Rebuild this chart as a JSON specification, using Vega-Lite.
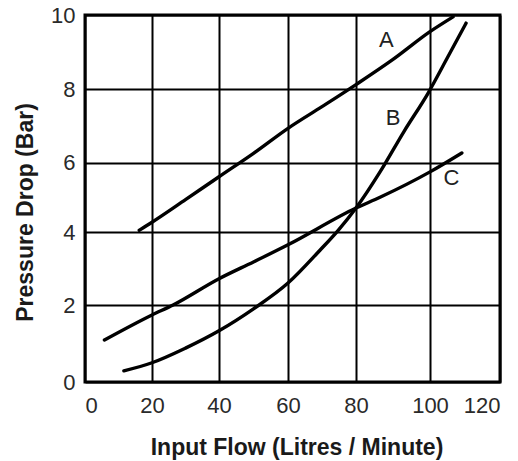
{
  "$schema": "https://vega.github.io/schema/vega-lite/v6.json",
  "width": 415,
  "height": 367,
  "autosize": {"type": "none"},
  "padding": {"left": 85, "top": 15, "right": 18, "bottom": 79},
  "background": "white",
  "config": {
    "font": "Liberation Sans",
    "view": {"stroke": "black", "strokeWidth": 3},
    "axis": {
      "grid": true,
      "gridColor": "black",
      "gridOpacity": 1,
      "gridWidth": 2,
      "domain": false,
      "ticks": false,
      "labelFont": "Liberation Sans",
      "labelFontSize": 22,
      "labelColor": "#2a2a2a",
      "titleFont": "Liberation Sans",
      "titleFontSize": 23,
      "titleFontWeight": "bold",
      "titleColor": "#1a1a1a"
    }
  },
  "datasets": {
    "curves": [
      {"curve": "A", "flow": 16.2, "pressure": 4.05},
      {"curve": "A", "flow": 20, "pressure": 4.28},
      {"curve": "A", "flow": 30, "pressure": 4.93},
      {"curve": "A", "flow": 40, "pressure": 5.59},
      {"curve": "A", "flow": 50, "pressure": 6.25},
      {"curve": "A", "flow": 60, "pressure": 6.93},
      {"curve": "A", "flow": 70, "pressure": 7.52},
      {"curve": "A", "flow": 80, "pressure": 8.12},
      {"curve": "A", "flow": 90, "pressure": 8.8},
      {"curve": "A", "flow": 100, "pressure": 9.55},
      {"curve": "A", "flow": 106.6, "pressure": 9.95},
      {"curve": "B", "flow": 11.6, "pressure": 0.29},
      {"curve": "B", "flow": 20, "pressure": 0.5},
      {"curve": "B", "flow": 30, "pressure": 0.88},
      {"curve": "B", "flow": 40, "pressure": 1.33},
      {"curve": "B", "flow": 50, "pressure": 1.9},
      {"curve": "B", "flow": 60, "pressure": 2.6},
      {"curve": "B", "flow": 69.4, "pressure": 3.5},
      {"curve": "B", "flow": 74.7, "pressure": 4.04},
      {"curve": "B", "flow": 80, "pressure": 4.69},
      {"curve": "B", "flow": 86.5, "pressure": 5.73},
      {"curve": "B", "flow": 93, "pressure": 6.85},
      {"curve": "B", "flow": 99.5, "pressure": 7.89},
      {"curve": "B", "flow": 105, "pressure": 8.85},
      {"curve": "B", "flow": 110.3, "pressure": 9.78},
      {"curve": "C", "flow": 5.8, "pressure": 1.09},
      {"curve": "C", "flow": 20, "pressure": 1.74},
      {"curve": "C", "flow": 26.3, "pressure": 2.0},
      {"curve": "C", "flow": 40, "pressure": 2.72},
      {"curve": "C", "flow": 50, "pressure": 3.18},
      {"curve": "C", "flow": 60, "pressure": 3.65},
      {"curve": "C", "flow": 80, "pressure": 4.69},
      {"curve": "C", "flow": 86.5, "pressure": 5.0},
      {"curve": "C", "flow": 100, "pressure": 5.73},
      {"curve": "C", "flow": 109.1, "pressure": 6.26}
    ],
    "labels": [
      {"name": "A", "flow": 88.2, "pressure": 9.32},
      {"name": "B", "flow": 90, "pressure": 7.21},
      {"name": "C", "flow": 106.1, "pressure": 5.54}
    ]
  },
  "layer": [
    {
      "data": {"name": "curves"},
      "mark": {"type": "line", "color": "black", "strokeWidth": 3.4, "interpolate": "monotone", "strokeCap": "round", "strokeJoin": "round"},
      "encoding": {
        "x": {"field": "flow", "type": "quantitative",
              "scale": {"domain": [0, 20, 40, 60, 80, 100, 120], "range": [0, 67, 134, 203, 271, 345, 415], "nice": false, "zero": false},
              "axis": {"values": [0, 20, 40, 60, 80, 100, 120], "title": "Input Flow (Litres / Minute)", "labelPadding": 13, "titlePadding": 20, "titleX": 211.5}},
        "y": {"field": "pressure", "type": "quantitative",
              "scale": {"domain": [0, 2, 4, 6, 8, 10], "range": [367, 290, 217, 147.5, 74, 0], "nice": false, "zero": false},
              "axis": {"values": [0, 2, 4, 6, 8, 10], "title": "Pressure Drop (Bar)", "labelPadding": 10, "titleX": -48, "titleY": 197}},
        "detail": {"field": "curve"}
      }
    },
    {
      "data": {"name": "labels"},
      "mark": {"type": "text", "fontSize": 22, "color": "#222222", "font": "Liberation Sans"},
      "encoding": {
        "x": {"field": "flow", "type": "quantitative"},
        "y": {"field": "pressure", "type": "quantitative"},
        "text": {"field": "name"}
      }
    }
  ]
}
